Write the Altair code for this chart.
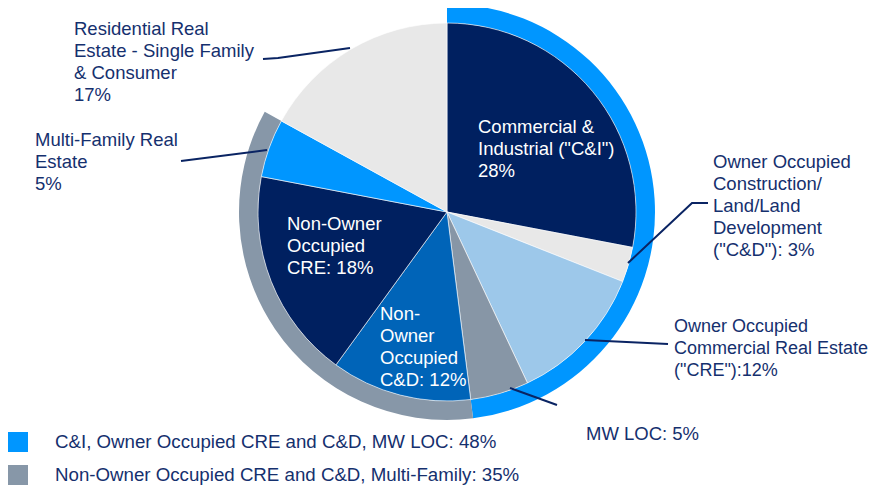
import altair as alt
import pandas as pd

# ---- data ----
categories = [
    'Commercial & Industrial ("C&I")',
    'Owner Occupied C&D',
    'Owner Occupied CRE',
    'MW LOC',
    'Non-Owner Occupied C&D',
    'Non-Owner Occupied CRE',
    'Multi-Family Real Estate',
    'Residential Real Estate - Single Family & Consumer',
]
shares = [28, 3, 12, 5, 12, 18, 5, 17]
slice_colors = ["#002060", "#E8E8E8", "#9DC8EA", "#8796A6",
                "#0064B8", "#002060", "#0096FF", "#E8E8E8"]

ring_groups = [
    "C&I, Owner Occupied CRE and C&D, MW LOC: 48%",
    "Non-Owner Occupied CRE and C&D, Multi-Family: 35%",
    "Other",
]
ring_shares = [48, 35, 17]
ring_colors = ["#0096FF", "#8797A8", "rgba(255,255,255,0)"]

label_lines = [
    ["Commercial &", 'Industrial ("C&I")', "28%"],
    ["Owner Occupied", "Construction/", "Land/Land", "Development", '("C&D"): 3%'],
    ["Owner Occupied", "Commercial Real Estate", '("CRE"):12%'],
    ["MW LOC: 5%"],
    ["Non-", "Owner", "Occupied", "C&D: 12%"],
    ["Non-Owner", "Occupied", "CRE: 18%"],
    ["Multi-Family Real", "Estate", "5%"],
    ["Residential Real", "Estate - Single Family", "& Consumer", "17%"],
]

# ---- layout (page pixels) ----
PAD_TOP = 5
MX = 8
MY = 8 + PAD_TOP
CX, CY = 447, 212
R_PIE, R_RING = 189, 208
NAVY_TXT = "#15306E"
LINE_COL = "#0A2463"
label_x = [478, 713, 674, 586, 380, 287, 35, 74]
label_y = [133, 168, 332, 440, 320, 230, 146, 35]
label_size = [18.5, 18.5, 18, 18.5, 18.5, 18.5, 18.5, 18.5]
label_col = ["white", NAVY_TXT, NAVY_TXT, NAVY_TXT, "white", "white", NAVY_TXT, NAVY_TXT]

leaders = [
    [(708, 203), (692, 203), (628, 263)],
    [(668, 344), (585, 340)],
    [(557, 405), (510, 388)],
    [(181, 161), (267, 150)],
    [(263, 59), (278, 58), (350, 48)],
]

pie_df = pd.DataFrame({"category": categories, "share": shares, "idx": range(len(shares))})
ring_df = pd.DataFrame({"group": ring_groups, "share": ring_shares, "idx": range(len(ring_shares))})
lab_df = pd.DataFrame({
    "lines": label_lines,
    "x": [v - MX for v in label_x],
    "y": [v - MY for v in label_y],
    "fs": label_size,
    "col": label_col,
})
lead_rows = []
for i, pts in enumerate(leaders):
    for j, (px, py) in enumerate(pts):
        lead_rows.append({"lid": i, "pt": j, "x": px - MX, "y": py - MY})
lead_df = pd.DataFrame(lead_rows)

FONT = "Liberation Sans"

pie = alt.Chart(pie_df).mark_arc(outerRadius=R_PIE, stroke="white", strokeWidth=0.6).encode(
    theta=alt.Theta("share:Q", stack=True),
    color=alt.Color("category:N", scale=alt.Scale(domain=categories, range=slice_colors), legend=None),
    order=alt.Order("idx:Q"),
    x=alt.value(CX - MX),
    y=alt.value(CY - MY),
)

ring = alt.Chart(ring_df).mark_arc(innerRadius=R_PIE, outerRadius=R_RING).encode(
    theta=alt.Theta("share:Q", stack=True),
    color=alt.Color(
        "group:N",
        scale=alt.Scale(domain=ring_groups, range=ring_colors),
        legend=alt.Legend(
            orient="none", legendX=0, legendY=424 - PAD_TOP, title=None,
            values=ring_groups[:2], symbolType="square", symbolSize=400,
            symbolStrokeWidth=0, symbolOpacity=1,
            labelFontSize=18.7, labelColor=NAVY_TXT, labelFont=FONT,
            labelLimit=800, rowPadding=13, labelOffset=27, padding=0,
        ),
    ),
    order=alt.Order("idx:Q"),
    x=alt.value(CX - MX),
    y=alt.value(CY - MY),
)

lines = alt.Chart(lead_df).mark_line(color=LINE_COL, strokeWidth=2).encode(
    x=alt.X("x:Q", scale=None),
    y=alt.Y("y:Q", scale=None),
    detail="lid:N",
    order="pt:Q",
)

texts = alt.Chart(lab_df).mark_text(
    align="left", baseline="alphabetic", lineHeight=22, font=FONT
).encode(
    x=alt.X("x:Q", scale=None),
    y=alt.Y("y:Q", scale=None),
    text="lines",
    size=alt.Size("fs:Q", scale=None),
    color=alt.Color("col:N", scale=None),
)

chart = alt.layer(ring, pie, lines, texts).resolve_scale(color="independent").properties(
    width=860, height=478 - PAD_TOP,
    padding={"left": 0, "top": PAD_TOP, "right": 0, "bottom": 0},
    autosize=alt.AutoSizeParams(type="none"),
).configure_view(stroke=None)

chart.save("out.html", embed_options={"renderer": "svg", "actions": False})
